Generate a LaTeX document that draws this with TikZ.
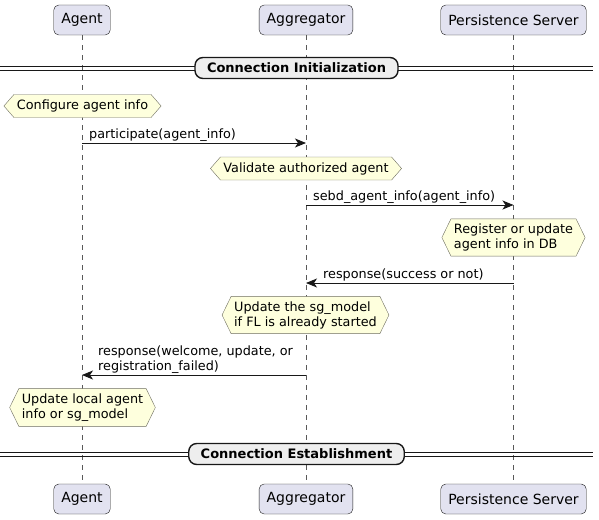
\documentclass[tikz,border=0pt]{standalone}
\usepackage{fontspec}
\setmainfont{DejaVu Sans}
\usetikzlibrary{shapes.symbols,arrows.meta,positioning}
\definecolor{actorfill}{HTML}{E2E2F0}
\definecolor{inkline}{HTML}{181818}
\definecolor{notefill}{HTML}{FEFFDD}
\definecolor{noteline}{HTML}{6E6E60}
\definecolor{sepfill}{HTML}{EEEEEE}
\tikzstyle{actor} = [draw=inkline, fill=actorfill, rounded corners=5pt, minimum height=30pt, inner xsep=7.5pt, font=\fontsize{14}{16}\selectfont]
\tikzstyle{hnote} = [draw=noteline, fill=notefill, shape=signal, signal to=west and east, signal pointer angle=98, inner xsep=3pt, inner ysep=3pt, minimum height=23pt, align=left, font=\fontsize{12.8}{15}\selectfont]
\tikzstyle{tallnote} = [hnote, signal pointer angle=128, inner ysep=5pt]
\tikzstyle{msg} = [draw=inkline, line width=0.9pt, -{Stealth[length=11pt,width=9pt,inset=3pt]}]
\tikzstyle{lbl} = [inner sep=0pt, align=left, font=\fontsize{12.8}{15}\selectfont]
\tikzstyle{lifeline} = [draw=black!65, dash pattern=on 5pt off 5pt]
\tikzstyle{divider} = [draw=inkline, line width=1.4pt, fill=sepfill, rounded corners=8pt, minimum height=21pt, inner xsep=12pt, font=\bfseries\fontsize{13}{15}\selectfont]

\begin{document}
\begin{tikzpicture}[x=1pt, y=-1pt]
	\useasboundingbox (0,0) rectangle (599,519);
	
	% participants
	\node [actor] (agentT) at (82,20) {Agent};
	\node [actor] (aggT) at (306,20) {Aggregator};
	\node [actor] (persT) at (513.5,20) {Persistence Server};
	\node [actor] (agentB) at (82,499) {Agent};
	\node [actor] (aggB) at (306,499) {Aggregator};
	\node [actor] (persB) at (513.5,499) {Persistence Server};
	
	\path [lifeline] (agentT.south) -- (agentB.north);
	\path [lifeline] (aggT.south) -- (aggB.north);
	\path [lifeline] (persT.south) -- (persB.north);
	
	% separators
	\coordinate (sep1) at (0,68.5);
	\coordinate (sep2) at (0,454);
	\foreach \s in {sep1, sep2} {
		\draw [inkline, line width=0.9pt] ([yshift=2pt]\s) -- ++(593,0);
		\draw [inkline, line width=0.9pt] ([yshift=-2pt]\s) -- ++(593,0);
	}
	\node [divider] (init) at (296.5,68) {Connection Initialization};
	\node [divider] (estab) at (296.5,454) {Connection Establishment};
	
	% notes
	\node [hnote] (conf) at (82.5,106) {Configure agent info};
	\node [hnote] (valid) at (306,168.5) {Validate authorized agent};
	\node [tallnote] (reg) at (513.5,237.5) {Register or update\\agent info in DB};
	\node [tallnote] (upd) at (305.5,315) {Update the sg\_model\\if FL is already started};
	\node [tallnote] (local) at (82.5,407.5) {Update local agent\\info or sg\_model};
	
	% messages
	\coordinate (m1) at (0,143);
	\coordinate (m2) at (0,205);
	\coordinate (m3) at (0,283);
	\coordinate (m4) at (0,375);
	
	\path [msg] (agentT |- m1) -- (aggT |- m1);
	\node [lbl, above right=1.5pt and 7pt of {agentT |- m1}, anchor=south west] (l1) {participate(agent\_info)};
	\path [msg] (aggT |- m2) -- (persT |- m2);
	\node [lbl, above right=1.5pt and 7pt of {aggT |- m2}, anchor=south west] (l2) {sebd\_agent\_info(agent\_info)};
	\path [msg] (persT |- m3) -- (aggT |- m3);
	\node [lbl, above right=1.5pt and 17pt of {aggT |- m3}, anchor=south west] (l3) {response(success or not)};
	\path [msg] (aggT |- m4) -- (agentT |- m4);
	\node [lbl, above right=1.5pt and 16pt of {agentT |- m4}, anchor=south west] (l4) {response(welcome, update, or\\registration\_failed)};
\end{tikzpicture}
\end{document}
